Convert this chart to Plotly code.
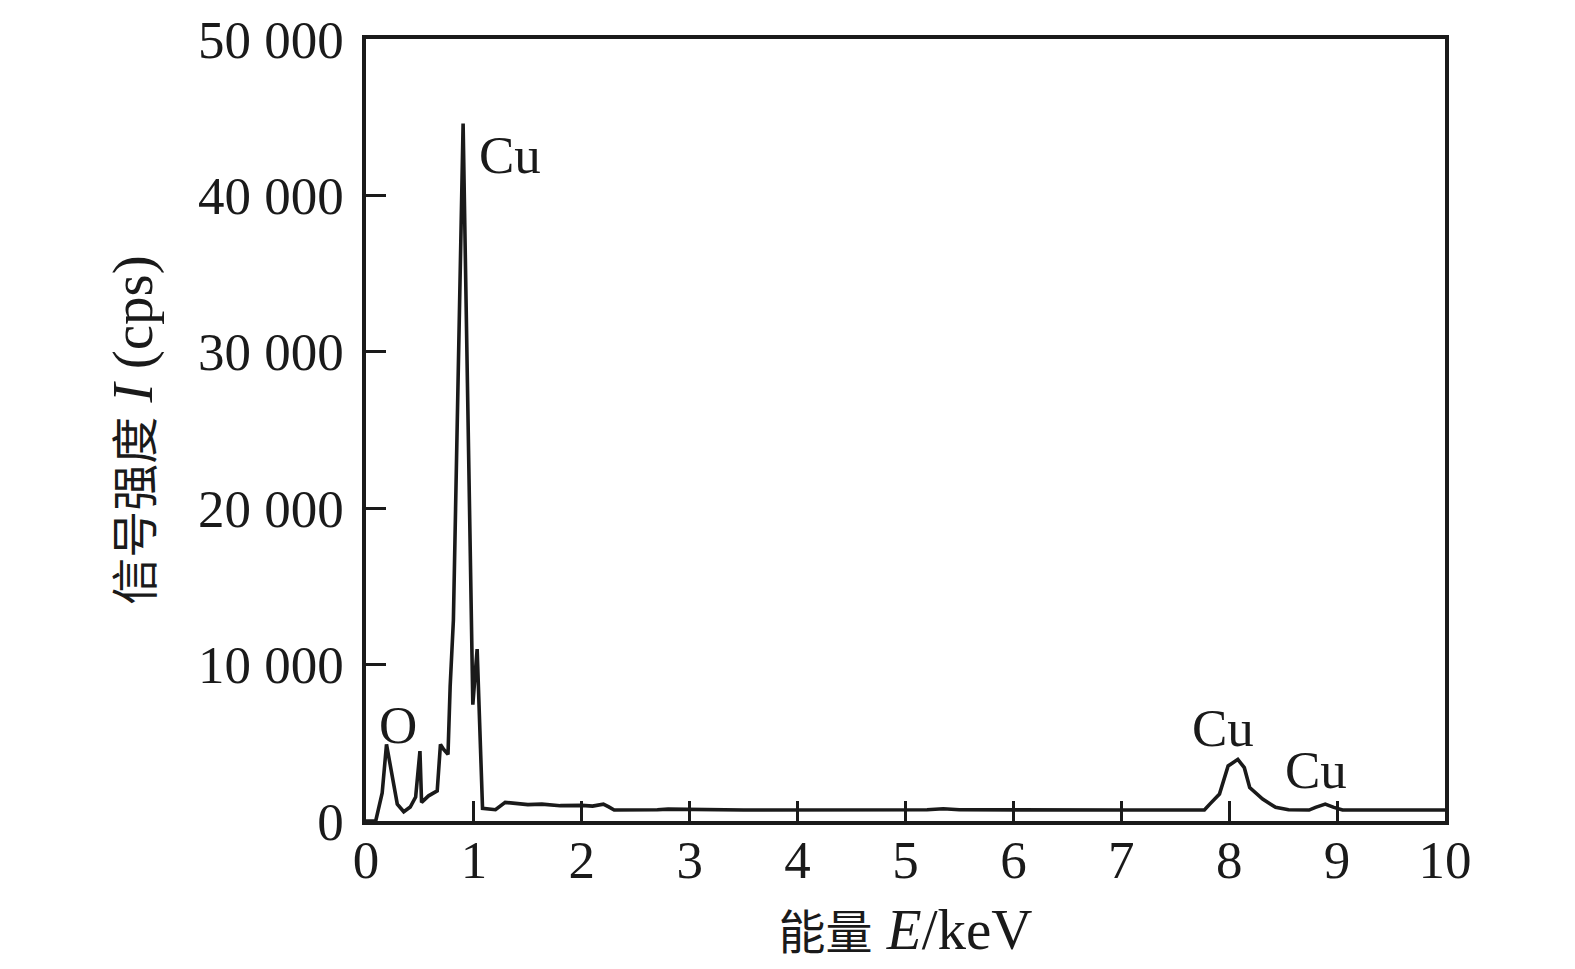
import plotly.graph_objects as go

# EDS spectrum
energy = [0.00, 0.09, 0.15, 0.19, 0.29, 0.35, 0.41, 0.46, 0.50, 0.515,
          0.58, 0.66, 0.69, 0.72, 0.76, 0.78, 0.81, 0.86, 0.90, 0.94,
          0.975, 0.99, 1.03, 1.05, 1.08, 1.20, 1.29, 1.50, 1.63, 1.80,
          2.00, 2.10, 2.20, 2.25, 2.30, 2.70, 2.80, 3.50, 5.20, 5.35,
          5.50, 7.00, 7.77, 7.82, 7.91, 7.99, 8.08, 8.14, 8.19, 8.31,
          8.43, 8.55, 8.74, 8.80, 8.89, 8.97, 9.05, 10.00]
intensity = [0, 0, 1800, 4900, 1080, 590, 890, 1530, 4470, 1190,
             1610, 1930, 4900, 4580, 4260, 8610, 12850, 29300, 44600, 28000,
             12850, 7440, 10990, 6490, 810, 720, 1190, 1050, 1080, 980,
             1000, 950, 1080, 900, 700, 720, 760, 700, 720, 780,
             720, 700, 700, 1080, 1720, 3520, 3940, 3410, 2140, 1400,
             870, 720, 700, 870, 1080, 870, 700, 700]

peak_labels = ["Cu", "O", "Cu", "Cu"]
label_x = [1.33, 0.30, 7.94, 8.80]
label_y = [42600, 6150, 5950, 3250]

y_ticks = [0, 10000, 20000, 30000, 40000, 50000]
y_tick_text = ["0", "10 000", "20 000", "30 000", "40 000", "50 000"]
x_ticks = list(range(0, 11))

SERIF = "Liberation Serif, Times New Roman, Noto Sans CJK SC, serif"
INK = '#1a1a1a'
FONT_SIZE = 53    # tick labels and peak labels
TITLE_SIZE = 57   # latin part of axis titles
CJK_SIZE = 47     # chinese characters


def cjk(s):
    return f'<span style="font-size:{CJK_SIZE}px">{s}</span>'


fig = go.Figure()
fig.add_trace(go.Scatter(
    x=energy, y=intensity, mode='lines',
    line=dict(color=INK, width=3.6),
    showlegend=False, hoverinfo='x+y'
))

for txt, lx, ly in zip(peak_labels, label_x, label_y):
    fig.add_annotation(x=lx, y=ly, text=txt, showarrow=False,
                       font=dict(family=SERIF, size=FONT_SIZE, color=INK))

axis_common = dict(
    showline=True, linecolor=INK, linewidth=3.5, mirror=True,
    ticks='inside', ticklen=20, tickwidth=2.5, tickcolor=INK,
    showgrid=False, zeroline=False, automargin=False,
    tickfont=dict(family=SERIF, size=FONT_SIZE, color=INK),
)

fig.update_xaxes(
    range=[0, 10], tickvals=x_ticks, ticklabelstandoff=-10,
    title=dict(text=cjk("能量") + " <i>E</i>/keV", standoff=22,
               font=dict(family=SERIF, size=TITLE_SIZE, color=INK)),
    **axis_common
)
fig.update_yaxes(
    range=[0, 50000], tickvals=y_ticks, ticktext=y_tick_text, ticklabelstandoff=8,
    title=dict(text=cjk("信号强度") + " <i>I</i> (cps)", standoff=28,
               font=dict(family=SERIF, size=TITLE_SIZE, color=INK)),
    **axis_common
)

# the page body adds a few px of offset, so margins are shifted to compensate
fig.update_layout(
    width=1575, height=969,
    margin=dict(l=358, r=138, t=31, b=156),
    paper_bgcolor='white', plot_bgcolor='white',
)

fig.write_html("out.html")
